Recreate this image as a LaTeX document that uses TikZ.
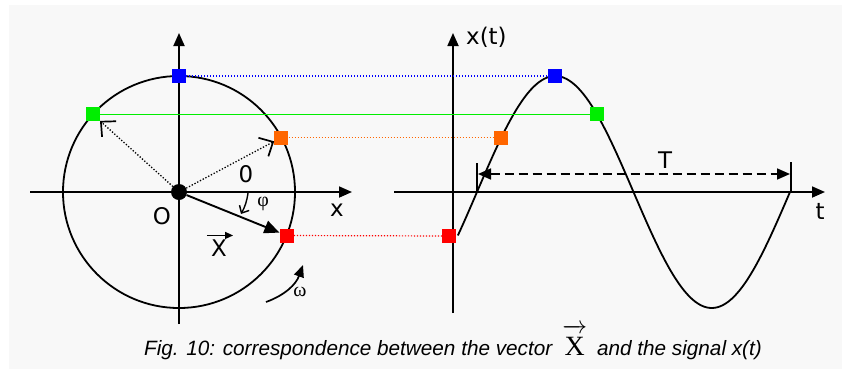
\documentclass[tikz,border=0pt]{standalone}
\usepackage{amsmath}
\usepackage{fontspec}
\usepackage{tikz}
\usetikzlibrary{arrows.meta}
\setmainfont{Liberation Sans}
\newfontfamily\timesfont{Liberation Serif}
\newfontfamily\labelfont{DejaVu Sans}
\definecolor{bggray}{RGB}{248,248,248}
\definecolor{myblue}{RGB}{0,0,255}
\definecolor{mygreen}{RGB}{0,238,0}
\definecolor{myorange}{RGB}{255,102,0}
\definecolor{myred}{RGB}{255,0,0}

\begin{document}
\begin{tikzpicture}[x=1bp,y=-1bp,
          sq/.style={fill,minimum size=14bp,inner sep=0pt},
          dot/.style={circle,fill=black,minimum size=16bp,inner sep=0pt},
          lbl/.style={font=\labelfont\fontsize{23}{25}\selectfont,inner sep=0pt},
          axis/.style={line width=1.8bp,-{Triangle[length=13bp,width=11bp]}},
          proj/.style={line width=1.2bp,dash pattern=on 1.2bp off 1.8bp},
          spoke/.style={line width=1.3bp,dash pattern=on 1.3bp off 1.8bp,
                        -{Straight Barb[length=11bp,width=21bp,line width=1.7bp]}}]
        \useasboundingbox[fill=white] (0,0) rectangle (846,369);
        \fill[bggray] (9,5) rectangle (842,369);
        % phasor side
        \coordinate (xl) at (30,192);
        \coordinate (xr) at (352,192);
        \coordinate (yb) at (179,324);
        \coordinate (yt) at (179,33);
        \draw[axis] (xl) -- (xr);
        \draw[axis] (yb) -- (yt);
        \draw[line width=1.8bp] (179,192) circle[radius=116];
        \node[dot] (o) at (179,192) {};
        \node[sq,myblue] (b1) at (179,76) {};
        \node[sq,mygreen] (g1) at (92.8,114.4) {};
        \node[sq,myorange] (r1) at (281.4,137.5) {};
        \node[sq,myred] (d1) at (286.6,235.5) {};
        \draw[spoke] (o) -- (g1);
        \draw[spoke] (o) -- (r1);
        \draw[line width=1.9bp,-{Triangle[length=15bp,width=13bp]}] (o) -- (d1);
        \node[lbl] (olbl) at (162,216) {O};
        \node[lbl] (thlbl) at (246,174) {0};
        \node[lbl] (xlbl) at (337,210) {x};
        \node[lbl] (xv) at (219,248) {X};
        \draw[line width=1.3bp,-{Triangle[length=8bp,width=7bp]}]
          ([xshift=-4bp,yshift=4bp]xv.north west) -- ([xshift=6bp,yshift=4bp]xv.north east);
        \coordinate (p1) at (248,193);
        \coordinate (p2) at (241,214);
        \draw[line width=1.4bp,-{Straight Barb[length=6bp,width=11bp]}] (p1) to[bend left=10] (p2);
        \node[font=\timesfont\fontsize{20}{22}\selectfont] (phi) at (263,204) {φ};
        \coordinate (w1) at (266,302);
        \coordinate (w2) at (303,265);
        \draw[line width=1.7bp,-{Triangle[length=12bp,width=10bp]}] (w1) to[bend right=25] (w2);
        \node[font=\timesfont\fontsize{20}{22}\selectfont] (om) at (300,292) {ω};
        % signal side
        \coordinate (tl) at (394,192);
        \coordinate (tr) at (825,192);
        \coordinate (sb) at (453,313);
        \coordinate (st) at (453,33);
        \draw[axis] (tl) -- (tr);
        \draw[axis] (sb) -- (st);
        \node[lbl,anchor=west] (sig) at (466,37) {x(t)};
        \node[lbl] (tlbl) at (820,211) {t};
        \draw[line width=1.8bp] plot[domain=-22:360,samples=120] ({477+\x/360*313},{192-116*sin(\x)});
        \node[sq,myblue] (b2) at (555.3,76) {};
        \node[sq,mygreen] (g2) at (597,114.4) {};
        \node[sq,myorange] (r2) at (501.3,137.5) {};
        \node[sq,myred] (d2) at (449,236) {};
        \draw[proj,myblue] (b1) -- (b2);
        \draw[line width=1.8bp,mygreen] (g1) -- (g2);
        \draw[proj,myorange] (r1) -- (r2);
        \draw[proj,myred] (d1) -- (d2);
        \coordinate (k1) at (477,163);
        \coordinate (k2) at (477,192);
        \coordinate (k3) at (791,162);
        \coordinate (k4) at (791,193);
        \draw[line width=2.6bp] (k1) -- (k2);
        \draw[line width=2.6bp] (k3) -- (k4);
        \coordinate (ta) at (478,174);
        \coordinate (tb) at (790,174);
        \draw[line width=1.7bp,dash pattern=on 9bp off 5bp,
              {Triangle[length=13bp,width=11bp]}-{Triangle[length=13bp,width=11bp]}] (ta) -- (tb);
        \node[lbl] (per) at (665,160) {T};
        % caption
        \node[font=\itshape\fontsize{20.8}{24}\selectfont] (cap) at (453,342)
          {Fig. 10: correspondence between the vector\hspace{10bp}%
           {\upshape\timesfont\fontsize{28}{30}\selectfont
            $\overrightarrow{\text{X}\rule{0pt}{22bp}}$}\hspace{10bp}and the signal x(t)};
      \end{tikzpicture}
\end{document}
